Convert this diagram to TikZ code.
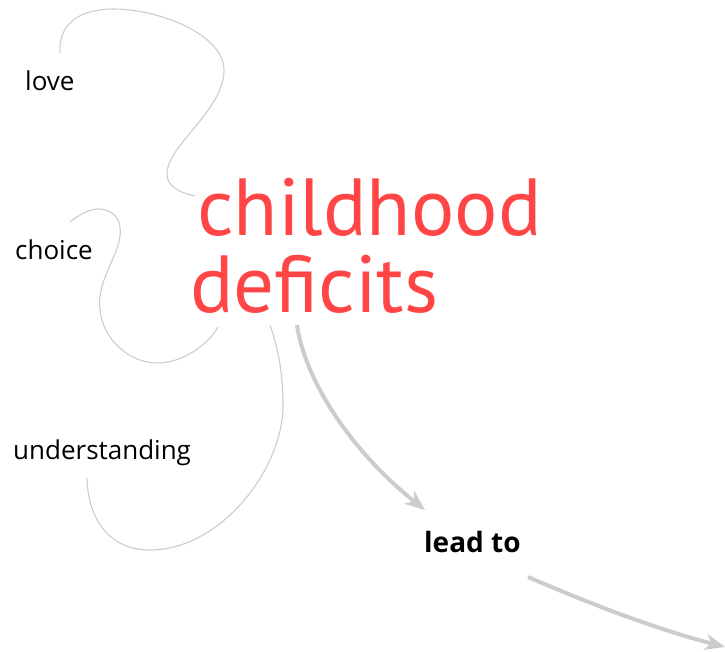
\documentclass[tikz,border=0pt]{standalone}
\usepackage{fontspec}
\setmainfont{Open Sans}
\newfontfamily\titlefont{PT Sans}
\usetikzlibrary{arrows.meta}
\definecolor{linegray}{HTML}{CCCCCC}
\definecolor{titlered}{HTML}{FF4545}
\begin{document}
\begin{tikzpicture}[x=1pt,y=-1pt,
  word/.style={font=\fontsize{26}{30}\selectfont, inner sep=0, anchor=base west},
  title/.style={font=\titlefont\fontsize{81}{77}\selectfont, text=titlered, inner sep=0, anchor=base west, align=left},
  verb/.style={font=\bfseries\fontsize{28}{32}\selectfont, inner sep=0, anchor=base west},
  thin/.style={draw=linegray, line width=1.1pt},
  thick/.style={draw=linegray, line width=4pt, -{Stealth[length=20pt, width=16pt, inset=6pt]}}]
\useasboundingbox (0,0) rectangle (725,652);
\node[word] (love) at (25,91) {love};
\node[word] (choice) at (15,259) {choice};
\node[word] (under) at (13,459) {understanding};
\node[title] (title) at (197,312) {childhood\\\hspace*{-7pt}deficits};
\node[verb] (lead) at (424,552) {lead to};
% curve anchors
\coordinate (l0) at (60,53);
\coordinate (l1) at (195,196);
\coordinate (c0) at (70,222);
\coordinate (c1) at (218,327);
\coordinate (u0) at (87,478);
\coordinate (u1) at (270,325);
\coordinate (a0) at (297,325);
\coordinate (a1) at (425,510);
\coordinate (b0) at (528,577);
\coordinate (b1) at (725,647);
\draw[thin] (l0) .. controls (58,20) and (85,9) .. (113,9)
  .. controls (160,9) and (224,35) .. (224,70)
  .. controls (224,110) and (168,145) .. (167,173)
  .. controls (166,186) and (180,193) .. (l1);
\draw[thin] (c0) .. controls (80,214) and (90,209) .. (98,209)
  .. controls (115,209) and (125,222) .. (118,245)
  .. controls (112,265) and (97,285) .. (100,310)
  .. controls (103,340) and (130,363) .. (157,363)
  .. controls (185,363) and (210,342) .. (c1);
\draw[thin] (u0) .. controls (88,520) and (110,550) .. (150,550)
  .. controls (220,550) and (283,470) .. (283,405)
  .. controls (283,370) and (277,345) .. (u1);
\draw[thick] (a0) .. controls (305,380) and (350,450) .. (a1);
\draw[thick] (b0) .. controls (600,608) and (660,630) .. (b1);
\end{tikzpicture}
\end{document}
